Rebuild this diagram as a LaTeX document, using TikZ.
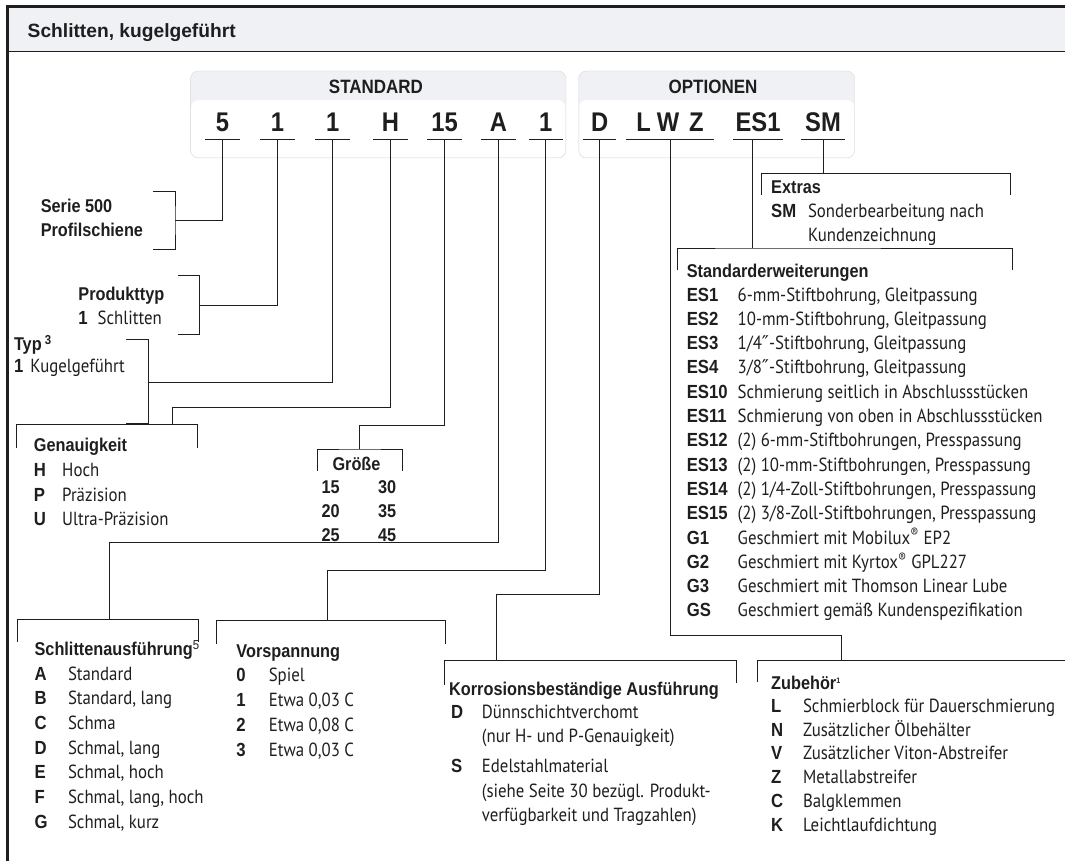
\documentclass[tikz,border=0pt]{standalone}
\usepackage{fontspec}
\setmainfont{PT Sans}[FakeStretch=0.885]
\newfontfamily\hdfont{Liberation Sans}[FakeStretch=0.88]
\newfontfamily\ttlfont{Liberation Sans}
\newfontfamily\symfont{DejaVu Sans}
\definecolor{bandgray}{HTML}{F0F1F5}
\definecolor{boxline}{HTML}{D6D8DC}
\definecolor{ink}{HTML}{1E1E1E}
\newcommand{\kb}[1]{{\hdfont\bfseries #1}}
\newcommand{\dprime}{{\symfont\char"2033}}
\usetikzlibrary{positioning}

\begin{document}
\begin{tikzpicture}[x=1pt, y=-1pt, line join=miter,
    txt/.style={anchor=base west, inner sep=0pt, font=\fontsize{19}{23}\selectfont, text=ink},
    hd/.style={anchor=base west, inner sep=0pt, font=\fontsize{18.5}{23}\selectfont\hdfont\bfseries, text=ink},
    kod/.style={anchor=base, inner xsep=0pt, inner ysep=8pt, text depth=0pt, font=\fontsize{27}{30}\selectfont\hdfont\bfseries, text=ink},
    ul/.style={draw=ink, line width=1.3pt},
    con/.style={draw=ink, line width=0.9pt},
    brk/.style={draw=ink, line width=0.9pt}]
\useasboundingbox (0,0) rectangle (1065,861);
% frame and title band
\fill[bandgray] (7,7) rectangle (1065,51.7);
\draw[ink, line width=0.9pt] (7,51.7) -- (1065,51.7);
\draw[ink, line width=3pt] (7,861) -- (7,7) -- (1065,7);
\node[anchor=base west, inner sep=0pt, font=\fontsize{19.2}{22}\selectfont\ttlfont\bfseries, text=ink] (title) at (27.5,38) {Schlitten, kugelgeführt};

% code boxes
\draw[boxline, fill=bandgray, rounded corners=8pt] (190.4,71) rectangle (566,158);
\fill[white, rounded corners=7pt] (191.2,100) rectangle (565.2,157.2);
\draw[boxline, fill=bandgray, rounded corners=8pt] (578.5,71) rectangle (854.7,158);
\fill[white, rounded corners=7pt] (579.3,100) rectangle (853.9,157.2);
\node[hd, anchor=base, font=\fontsize{19.3}{23}\selectfont\hdfont\bfseries] (std) at (376,93.5) {STANDARD};
\node[hd, anchor=base, font=\fontsize{19.3}{23}\selectfont\hdfont\bfseries] (opt) at (713,93.5) {OPTIONEN};

\foreach \n/\x/\t/\w in {c5/222.6/5/35, ca/277.5/1/35, cb/332.7/1/35, cH/390.5/H/35, c15/444.5/15/35, cA/498.5/A/35, cc/545.7/1/34,
    cD/599.6/D/33, cL/670/{L\hspace{6pt}W\hspace{10pt}Z}/87, cE/758/ES1/49.5, cS/823/SM/44}
  {\node[kod, minimum width=\w] (\n) at (\x,131.5) {\t};
   \draw[ul] (\n.south west) -- (\n.south east);}

% brackets
\coordinate (serie) at (175,220.3);
\draw[brk] (153.2,191) -| (serie) |- (153.2,249.6);
\coordinate (prod) at (199.7,305);
\draw[brk] (178,275.7) -| (prod) |- (178,334);
\coordinate (typ) at (148.8,382);
\draw[brk] (126.4,339.4) -| (typ) |- (126.4,423.1);
\coordinate (gen) at (172.2,424.8); \coordinate (genk) at (172.2,407.3);
\draw[brk] (16.5,447.5) |- (gen) -| (197,447.5);
\coordinate (gr) at (359.8,449); \coordinate (grk) at (359.8,425.1);
\draw[brk] (317.5,470.6) |- (gr) -| (402.2,470.6);
\coordinate (sa) at (109.5,619.6); \coordinate (sak) at (109.5,542.3);
\draw[brk] (17.9,642) |- (sa) -| (198.7,642);
\coordinate (vs) at (327.1,620.5); \coordinate (vsk) at (327.1,570.7);
\draw[brk] (216.9,643.7) |- (vs) -| (445.2,643.7);
\coordinate (ko) at (496.7,660.7); \coordinate (kok) at (496.7,594.3);
\draw[brk] (444.3,685) |- (ko) -| (736.9,683);
\coordinate (zu) at (841.3,660.3); \coordinate (zuk) at (841.3,635.2);
\draw[brk] (757,682) |- (zu) -- (1065,660.3);
\coordinate (es) at (752,248);
\draw[brk] (677.3,270) |- (es) -| (1012,270);
\coordinate (ex) at (823,173.5);
\draw[brk] (761.6,195) |- (ex) -| (1010.4,195);

% connectors
\draw[con] (c5.south) |- (serie);
\draw[con] (ca.south) |- (prod);
\draw[con] (cb.south) |- (typ);
\draw[con] (cH.south) |- (genk) -- (gen);
\draw[con] (c15.south) |- (grk) -- (gr);
\draw[con] (cA.south) |- (sak) -- (sa);
\draw[con] (cc.south) |- (vsk) -- (vs);
\draw[con] (cD.south) |- (kok) -- (ko);
\draw[con] (cL.south) |- (zuk) -- (zu);
\draw[con] ([xshift=-6pt]cE.south) -- (es);
\draw[con] (cS.south) -- (ex);

% left column
\node[hd] (serie-t) at (40.6,212.7) {Serie 500};
\node[hd] (serie-u) at (40.6,236.8) {Profilschiene};
\node[hd] (prod-t) at (78.2,300.5) {Produkttyp};
\node[txt] (prod-k) at (78.2,324.6) {\kb{1}};
\node[txt] (prod-u) at (97.5,324.6) {Schlitten};
\node[hd] (typ-t) at (13.8,350.5) {Typ\,\textsuperscript{3}};
\node[txt] (typ-k) at (13.8,372.8) {\kb{1}};
\node[txt] (typ-u) at (30.3,372.8) {Kugelgeführt};

\node[hd] (gen-t) at (33.7,451.7) {Genauigkeit};
\foreach \k/\t [count=\i from 0] in {H/Hoch, P/Präzision, U/Ultra-Präzision}{
  \node[txt] (genk\i) at (33.7,{476.4+24.6*\i}) {\kb{\k}};
  \node[txt] (gent\i) at (62,{476.4+24.6*\i}) {\t};}

\node[hd] (gr-t) at (332.3,470.6) {Größe};
\foreach \a/\b [count=\i from 0] in {15/30, 20/35, 25/45}{
  \node[hd] (gra\i) at (321.3,{493+24.1*\i}) {\a};
  \node[hd] (grb\i) at (377.8,{493+24.1*\i}) {\b};}

% bottom lists
\node[hd] (sa-t) at (34.4,655.8) {Schlittenausführung\textsuperscript{\mdseries 5}};
\foreach \k/\t [count=\i from 0] in {A/Standard, B/{Standard, lang}, C/Schma, D/{Schmal, lang}, E/{Schmal, hoch}, F/{Schmal, lang, hoch}, G/{Schmal, kurz}}{
  \node[txt] (sak\i) at (34.4,{680+24.7*\i}) {\kb{\k}};
  \node[txt] (sat\i) at (67.8,{680+24.7*\i}) {\t};}

\node[hd] (vs-t) at (236.2,657.5) {Vorspannung};
\foreach \k/\t [count=\i from 0] in {0/Spiel, 1/{Etwa 0,03 C}, 2/{Etwa 0,08 C}, 3/{Etwa 0,03 C}}{
  \node[txt] (vsk\i) at (236.2,{681.6+24.8*\i}) {\kb{\k}};
  \node[txt] (vst\i) at (268.6,{681.6+24.8*\i}) {\t};}

\node[hd] (ko-t) at (449,695) {Korrosionsbeständige Ausführung};
\node[txt] (ko-d) at (451,718) {\kb{D}};
\node[txt] (ko-d1) at (481.7,718) {Dünnschichtverchomt};
\node[txt] (ko-d2) at (481.7,742) {(nur H- und P-Genauigkeit)};
\node[txt] (ko-s) at (451,772) {\kb{S}};
\node[txt] (ko-s1) at (481.7,772) {Edelstahlmaterial};
\node[txt] (ko-s2) at (481.7,797) {(siehe Seite 30 bezügl. Produkt-};
\node[txt] (ko-s3) at (481.7,821) {verfügbarkeit und Tragzahlen)};

\node[hd] (zu-t) at (771,689) {Zubehör\raisebox{6pt}{\fontsize{8}{8}\selectfont 1}};
\foreach \k/\t [count=\i from 0] in {L/Schmierblock für Dauerschmierung, N/Zusätzlicher Ölbehälter, V/Zusätzlicher Viton-Abstreifer,
    Z/Metallabstreifer, C/Balgklemmen, K/Leichtlaufdichtung}{
  \node[txt] (zuk\i) at (771,{712.2+23.8*\i}) {\kb{\k}};
  \node[txt] (zut\i) at (802.8,{712.2+23.8*\i}) {\t};}

% right column
\node[hd] (ex-t) at (771,194) {Extras};
\node[txt] (ex-k) at (771,218) {\kb{SM}};
\node[txt] (ex-u) at (807.8,218) {Sonderbearbeitung nach};
\node[txt] (ex-v) at (807.8,241) {Kundenzeichnung};

\node[hd] (es-t) at (686.6,277.5) {Standarderweiterungen};
\foreach \k/\t [count=\i from 0] in {ES1/{6-mm-Stiftbohrung, Gleitpassung}, ES2/{10-mm-Stiftbohrung, Gleitpassung},
    ES3/{1/4\dprime-Stiftbohrung, Gleitpassung}, ES4/{3/8\dprime-Stiftbohrung, Gleitpassung},
    ES10/{Schmierung seitlich in Abschlussstücken}, ES11/{Schmierung von oben in Abschlussstücken},
    ES12/{(2) 6-mm-Stiftbohrungen, Presspassung}, ES13/{(2) 10-mm-Stiftbohrungen, Presspassung},
    ES14/{(2) 1/4-Zoll-Stiftbohrungen, Presspassung}, ES15/{(2) 3/8-Zoll-Stiftbohrungen, Presspassung},
    G1/{Geschmiert mit Mobilux\textsuperscript{®} EP2}, G2/{Geschmiert mit Kyrtox\textsuperscript{®} GPL227},
    G3/{Geschmiert mit Thomson Linear Lube}, GS/{Geschmiert gemäß Kundenspezifikation}}{
  \node[txt] (esk\i) at (686.6,{301+24.3*\i}) {\kb{\k}};
  \node[txt] (est\i) at (737.5,{301+24.3*\i}) {\t};}
\end{tikzpicture}
\end{document}
